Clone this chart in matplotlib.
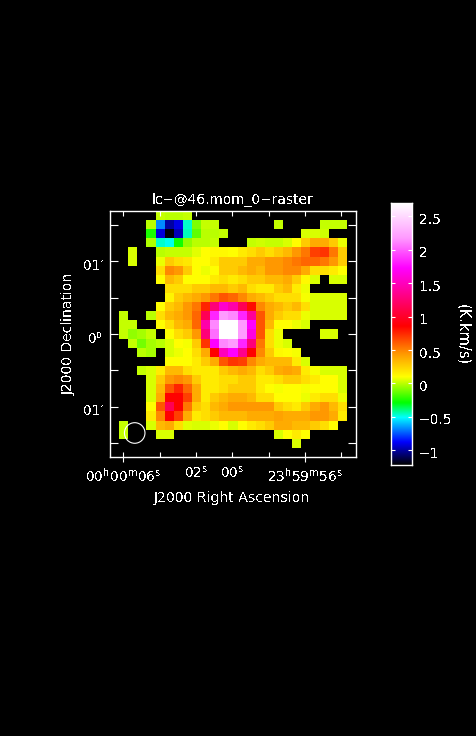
#!/usr/bin/env python3

import numpy as np
import matplotlib
matplotlib.use("Agg")
import matplotlib.pyplot as plt
from matplotlib.colors import LinearSegmentedColormap
from matplotlib.patches import Ellipse
from matplotlib.transforms import ScaledTranslation

W, H = 476, 736
_ = np.nan

# moment map, K.km/s, top row first
ROW_00 = [_,_,_,_,_,.02,0,-.01,.02,_,_,_,_,_,_,_,_,_,_,_,_,_,_,_,_,_,_]
ROW_01 = [_,_,_,_,0,-.68,-1.0,-.9,-.46,-.1,.02,.02,_,_,_,_,_,_,.02,_,_,_,_,.02,.02,.02,_]
ROW_02 = [_,_,_,_,-.25,-.92,-1.2,-.97,-.44,-.14,0,0,.02,_,_,_,_,_,_,_,_,.05,.05,.03,_,_,_]
ROW_03 = [_,_,_,_,-.02,-.46,-.5,-.27,-.07,-.01,0,.02,_,_,_,.01,.03,.02,.02,.05,.1,.27,.38,.38,.27,.08,_]
ROW_04 = [_,_,.05,_,_,0,.01,.01,.01,.06,.1,.12,.12,.1,.16,.21,.27,.21,.27,.33,.44,.54,.68,.72,.54,.27,_]
ROW_05 = [_,_,.05,_,_,.08,.27,.21,.18,.1,.1,.16,.27,.27,.27,.38,.38,.44,.44,.49,.54,.58,.58,.54,.44,.27,_]
ROW_06 = [_,_,_,_,_,.21,.49,.44,.27,.1,.08,.1,.27,.27,.33,.38,.33,.44,.44,.49,.49,.38,.21,.21,.16,.1,_]
ROW_07 = [_,_,_,_,_,.1,.33,.27,.1,.1,.1,.16,.21,.16,.21,.27,.27,.33,.33,.38,.27,.12,.05,_,.05,.05,_]
ROW_08 = [_,_,_,_,_,_,.21,.21,.21,.27,.27,.33,.33,.27,.33,.21,.16,.16,.27,.33,.16,.08,_,_,_,_,_]
ROW_09 = [_,_,_,_,_,_,.14,.27,.33,.38,.44,.54,.63,.58,.49,.38,.33,.27,.21,.21,.21,.09,.05,.05,.05,.05,_]
ROW_10 = [_,_,_,_,_,.1,.27,.33,.44,.54,.77,1.27,1.56,1.44,1.15,.82,.49,.38,.33,.27,.33,.21,.05,.05,.05,.05,_]
ROW_11 = [_,.02,_,_,0,.21,.33,.38,.44,.58,1.15,1.83,2.18,2.13,1.83,1.38,.63,.38,.27,.21,.21,.08,.05,.05,.05,.05,_]
ROW_12 = [_,.02,.02,_,_,.1,.21,.33,.38,.58,1.44,2.13,2.7,2.7,2.18,1.73,.63,.33,.1,.1,.08,.05,_,_,_,_,_]
ROW_13 = [_,.02,-.06,-.03,.02,_,.1,.21,.27,.44,1.27,2.05,2.7,2.7,2.18,1.62,.63,.21,.08,_,_,_,_,.05,.05,_,_]
ROW_14 = [_,_,.02,-.11,-.03,0,.05,.1,.09,.27,.72,1.73,2.13,2.18,1.83,1.27,.54,.21,.08,.05,_,_,_,_,_,_,_]
ROW_15 = [_,_,_,0,-.03,_,.05,.08,.1,.21,.38,.86,1.5,1.73,1.33,.86,.49,.27,.12,.1,.09,_,_,_,_,_,_]
ROW_16 = [_,_,_,_,_,_,.1,.1,.1,.16,.27,.38,.63,.72,.68,.49,.38,.33,.33,.33,.16,.05,_,_,_,_,_]
ROW_17 = [_,_,_,.02,.05,.16,.33,.33,.21,.16,.16,.16,.27,.33,.38,.33,.21,.27,.38,.41,.38,.16,.09,.05,.05,.05,_]
ROW_18 = [_,_,_,_,.05,.27,.44,.49,.44,.27,.16,.16,.21,.21,.27,.27,.16,.16,.21,.27,.27,.21,.16,.1,.1,.05,_]
ROW_19 = [_,_,_,_,.05,.33,.63,.77,.58,.38,.16,.16,.21,.27,.27,.27,.16,.1,.09,.1,.1,.09,.1,.1,.1,.05,_]
ROW_20 = [_,_,_,_,.05,.38,.86,.86,.68,.38,.16,.27,.33,.38,.38,.33,.21,.21,.1,.1,.1,.08,.16,.21,.21,.08,_]
ROW_21 = [_,_,_,_,.1,.63,1.15,.86,.54,.27,.21,.33,.38,.44,.44,.44,.44,.44,.27,.21,.16,.27,.38,.44,.33,.21,_]
ROW_22 = [_,_,_,_,.16,.49,.86,.68,.38,.16,.21,.27,.33,.33,.33,.38,.38,.38,.41,.38,.38,.38,.44,.44,.38,.16,_]
ROW_23 = [_,.02,_,_,.05,.33,.38,.21,.06,.05,.05,.08,.1,.05,.1,.16,.21,.27,.38,.38,.33,.33,.27,.21,.1,_,_]
ROW_24 = [_,.02,_,_,_,.05,.05,_,_,_,_,_,_,_,_,_,_,_,.05,.1,.16,.1,_,_,_,_,_]
ROW_25 = [_,_,_,_,_,_,_,_,_,_,_,_,_,_,_,_,_,_,_,_,.05,_,_,_,_,_,_]
ROW_26 = [_] * 27
ROWS = [ROW_00, ROW_01, ROW_02, ROW_03, ROW_04, ROW_05, ROW_06, ROW_07, ROW_08,
        ROW_09, ROW_10, ROW_11, ROW_12, ROW_13, ROW_14, ROW_15, ROW_16, ROW_17,
        ROW_18, ROW_19, ROW_20, ROW_21, ROW_22, ROW_23, ROW_24, ROW_25, ROW_26]

VMIN, VMAX = -1.22, 2.7
CMAP_VALUES = [-1.22, -0.88, -0.51, -0.29, 0.10, 0.44, 0.86, 1.73, 2.18, 2.7]
CMAP_COLORS = ["#000000", "#0000ff", "#00ffff", "#00ff00", "#ffff00",
               "#ff9900", "#ff0000", "#ff00ff", "#ff99ff", "#ffffff"]

# RA in seconds from 00h00m00s, Dec in arcmin
RA_LIM = (6.73, -6.81)
DEC_LIM = (-1.69, 1.69)
RA_MAJOR = [6, -4]
RA_MAJOR_LABELS = ["00$^{h}$00$^{m}$06$^{s}$", "23$^{h}$59$^{m}$56$^{s}$"]
RA_MINOR = [4, 2, 0, -2, -6]
RA_MINOR_LABELS = ["", "02$^{s}$", "00$^{s}$", "", ""]
DEC_TICKS = [1.0, 0.5, 0.0, -0.5, -1.0, -1.5, 1.5]
DEC_LABELS = ["01\u2032", "", "0$^{o}$", "", "01\u2032", "", ""]
BAR_TICKS = [2.5, 2, 1.5, 1, 0.5, 0, -0.5, -1]
BAR_LABELS = ["2.5", "2", "1.5", "1", "0.5", "0", "\u22120.5", "\u22121"]
BEAM_RA, BEAM_DEC = 5.37, -1.36
BEAM_W, BEAM_H = 1.13, 0.283


def px_axes(fig, left, top, right, bottom):
    return fig.add_axes([left / W, 1 - bottom / H, (right - left) / W, (bottom - top) / H])


def shift_labels(fig, labels, dx_px, dy_px):
    offset = ScaledTranslation(dx_px / 100, dy_px / 100, fig.dpi_scale_trans)
    for label in labels:
        label.set_transform(label.get_transform() + offset)


plt.rcParams["font.family"] = "DejaVu Sans"
plt.rcParams["font.size"] = 10
plt.rcParams["text.color"] = "white"
plt.rcParams["text.antialiased"] = False
plt.rcParams["mathtext.default"] = "regular"

cmap = LinearSegmentedColormap.from_list(
    "aips", [((v - VMIN) / (VMAX - VMIN), c) for v, c in zip(CMAP_VALUES, CMAP_COLORS)], N=256)

fig = plt.figure(figsize=(W / 100, H / 100), dpi=100, facecolor="black")

ax = px_axes(fig, 110, 211, 356, 457)
ax.set_facecolor("black")
ax.imshow(np.array(ROWS), cmap=cmap, vmin=VMIN, vmax=VMAX, interpolation="nearest", aspect="auto",
          extent=(RA_LIM[0], RA_LIM[1], DEC_LIM[0], DEC_LIM[1]))
ax.set_xlim(*RA_LIM)
ax.set_ylim(*DEC_LIM)
ax.add_patch(Ellipse((BEAM_RA, BEAM_DEC), BEAM_W, BEAM_H, fill=False, edgecolor="white", lw=0.8))

for spine in ax.spines.values():
    spine.set_color("white")
    spine.set_linewidth(1.0)

ax.set_xticks(RA_MAJOR, labels=RA_MAJOR_LABELS)
ax.set_xticks(RA_MINOR, labels=RA_MINOR_LABELS, minor=True)
ax.tick_params(axis="x", which="major", direction="inout", length=7.5, width=0.8, color="white",
               labelcolor="white", pad=3)
ax.tick_params(axis="x", which="minor", direction="in", length=3.6, width=0.8, color="white",
               labelcolor="white", pad=5.7)
ax.set_yticks(DEC_TICKS, labels=DEC_LABELS)
ax.tick_params(axis="y", which="major", direction="in", left=True, right=True, length=5.8, width=0.8,
               color="white", labelcolor="white", pad=4.5)

top = ax.secondary_xaxis("top")
top.set_xticks(RA_MAJOR + RA_MINOR, labels=[""] * 7)
top.tick_params(direction="in", length=3.6, width=0.8, color="white")
top.spines["top"].set_visible(False)

bar = px_axes(fig, 391, 203, 412, 465)
levels = np.linspace(VMIN, VMAX, 256)[::-1].reshape(-1, 1)
bar.imshow(levels, cmap=cmap, vmin=VMIN, vmax=VMAX, aspect="auto", extent=(0, 1, VMIN, VMAX))
bar.set_xticks([])
bar.yaxis.tick_right()
bar.set_yticks(BAR_TICKS, labels=BAR_LABELS)
bar.tick_params(axis="y", direction="in", left=True, right=True, length=3.2, width=0.8, color="white",
                labelcolor="white", pad=5, labelsize=10)
for spine in bar.spines.values():
    spine.set_color("white")
    spine.set_linewidth(1.0)

fig.canvas.draw()
shift_labels(fig, ax.get_yticklabels(), 0, -3)
shift_labels(fig, bar.get_yticklabels(), 0, -2)

fig.text(233 / W, 1 - 200 / H, "lc\u2212@46.mom_0\u2212raster", ha="center", va="center", fontsize=9.9)
fig.text(232 / W, 1 - 498 / H, "J2000 Right Ascension", ha="center", va="center", fontsize=10.1)
fig.text(69 / W, 1 - 334 / H, "J2000 Declination", ha="center", va="center", rotation=90, fontsize=10)
fig.text(463 / W, 1 - 335 / H, "(K.km/s)", ha="center", va="center", rotation=270, fontsize=10.5)

fig.savefig("out.png", dpi=100, facecolor="black")
